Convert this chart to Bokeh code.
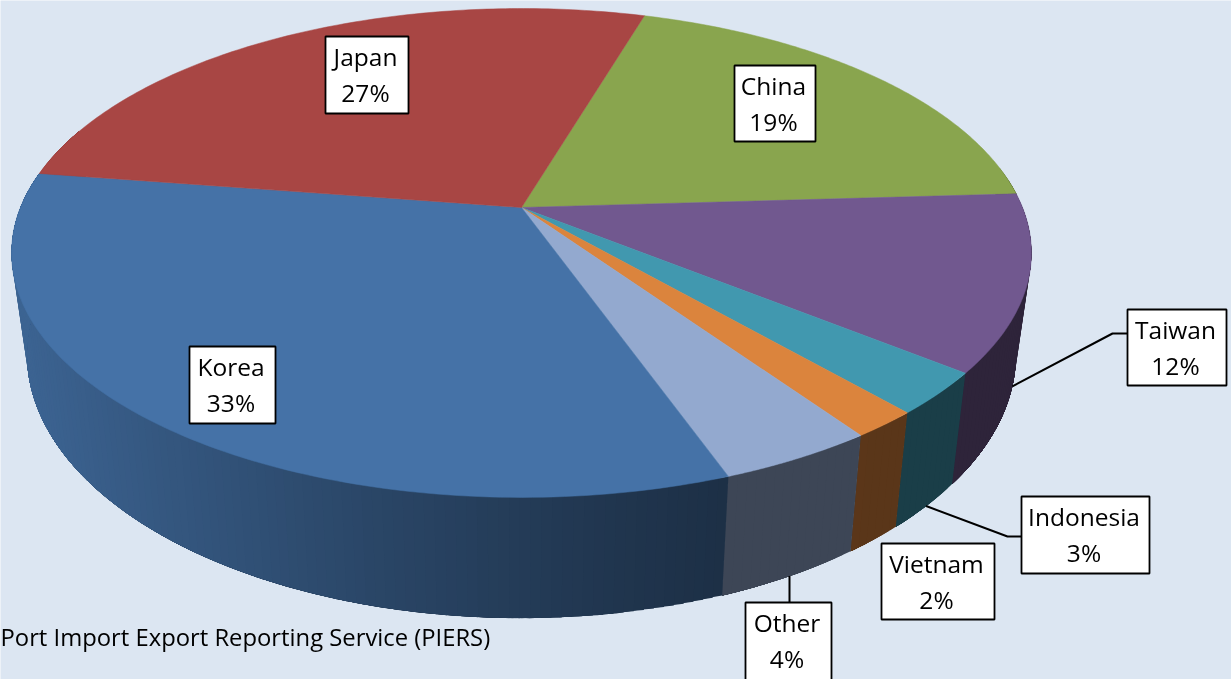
import numpy as np
from bokeh.plotting import figure
from bokeh.models import Range1d
from bokeh.core.properties import value
from bokeh.embed import file_html
from bokeh.resources import INLINE

# ---- chart data (clockwise from the China/Japan boundary at the back)
countries = ["China", "Taiwan", "Indonesia", "Vietnam", "Other", "Korea", "Japan"]
shares = [19.4, 11.6, 2.8, 1.8, 4.2, 32.9, 27.3]
percent_labels = ["19%", "12%", "3%", "2%", "4%", "33%", "27%"]
colors = ["#89A54E", "#71588F", "#4198AF", "#DB843D", "#93A9CF", "#4572A7", "#A84644"]
source_text = "Port Import Export Reporting Service (PIERS)"

# ---- projection of the tilted disc, in page pixels
W, H = 1231, 679
BG = "#DCE6F2"
CX, CY, A, B, K = 521.0, 207.0, 501.0, 236.0, 0.186
START_DEG = 16.8
SIDE_SX, SIDE_Y0, SIDE_B = 0.97, 304.5, 255.0
FONT = "Open Sans"


def top_pt(theta):
    u, v = np.sin(theta), -np.cos(theta)
    w = 1 - K * v
    return CX + A * u / w, CY + B * v / w


def bottom_pt(theta):
    u, v = np.sin(theta), -np.cos(theta)
    w = 1 - K * v
    return CX + SIDE_SX * A * u / w, SIDE_Y0 + SIDE_B * v / w


def shade(hex_color, f):
    r, g, b = (int(hex_color[i:i + 2], 16) for i in (1, 3, 5))
    return "#%02x%02x%02x" % (int(r * f), int(g * f), int(b * f))


fractions = np.array(shares) / sum(shares)
edges = np.radians(START_DEG) + np.concatenate([[0], np.cumsum(fractions)]) * 2 * np.pi

p = figure(width=W, height=H, x_range=Range1d(0, W), y_range=Range1d(H, 0),
           output_backend="svg", toolbar_location=None, min_border=0,
           background_fill_color=BG, border_fill_color=BG, outline_line_color=None)
p.axis.visible = False
p.grid.visible = False
p.styles = {"position": "fixed", "left": "0px", "top": "0px"}

# side wall: overlapping strips (each runs to the slice's far end and is painted
# over by the next one), so the shading shows no seams
sx, sy, sc = [], [], []
for i, col in enumerate(colors):
    a0, a1 = edges[i], edges[i + 1]
    lo, hi = max(a0, np.radians(80)), min(a1, np.radians(290))
    if hi <= lo:
        continue
    n = max(int(np.degrees(hi - lo)), 1)
    ts = np.linspace(lo, hi, n + 1)
    for t0, t1 in zip(ts[:-1], ts[1:]):
        x0, y0 = top_pt(t0)
        x1, y1 = top_pt(t1)
        x2, y2 = bottom_pt(t1)
        x3, y3 = bottom_pt(t0)
        f = np.interp((x0 + x1 + x2 + x3) / 4, [20, 200, 400, 600, 725, 1031],
                      [0.88, 0.74, 0.60, 0.48, 0.42, 0.41])
        arc = np.linspace(t0, hi, 12)
        ux, uy = top_pt(arc)
        lx, ly = bottom_pt(arc[::-1])
        sx.append(list(ux) + list(lx))
        sy.append(list(uy) + list(ly))
        sc.append(shade(col, f))
p.patches(sx, sy, fill_color=sc, line_color=None)

# top face
tx, ty = [], []
for i in range(len(colors)):
    ts = np.linspace(edges[i], edges[i + 1], 120)
    ax, ay = top_pt(ts)
    tx.append([CX] + list(ax))
    ty.append([CY] + list(ay))
p.patches(tx, ty, fill_color=colors, line_color=colors, line_width=0.5)

# leader lines from the lower rim at the middle of each slice
mids = (edges[:-1] + edges[1:]) / 2
for name, elbow in {"Taiwan": [(1112, 333), (1127, 333)],
                    "Indonesia": [(1007, 536), (1021, 536)]}.items():
    ax, ay = bottom_pt(mids[countries.index(name)])
    p.line([ax] + [e[0] for e in elbow], [ay] + [e[1] for e in elbow],
           line_color="black", line_width=2)
ax, ay = bottom_pt(mids[countries.index("Other")])
p.line([789, 789], [ay, 602], line_color="black", line_width=2)

# label boxes: left, right, top, bottom
boxes = {"China": (734, 815, 65, 141), "Taiwan": (1127, 1226, 309, 385),
         "Indonesia": (1021, 1149, 496, 573), "Vietnam": (881, 994, 543, 619),
         "Other": (745, 831, 602, 690), "Korea": (189, 275, 346, 423),
         "Japan": (325, 408, 36, 113)}
for name, pct in zip(countries, percent_labels):
    l, r, t, b = boxes[name]
    p.quad(left=[l], right=[r], top=[t], bottom=[b], fill_color="white",
           line_color="black", line_width=1.8)
    xc = (l + r) / 2 - 1.5
    p.text([xc], [t + 19.5], text=[name], text_font=value(FONT), text_font_size="24.5px",
           text_align="center", text_baseline="middle", text_color="black")
    p.text([xc], [t + 55.5], text=[pct], text_font=value(FONT), text_font_size="24.5px",
           text_align="center", text_baseline="middle", text_color="black")

p.text([0], [636], text=[source_text], text_font=value(FONT), text_font_size="23.8px",
       text_align="left", text_baseline="middle", text_color="black")

open("out.html", "w").write(file_html(p, INLINE))
